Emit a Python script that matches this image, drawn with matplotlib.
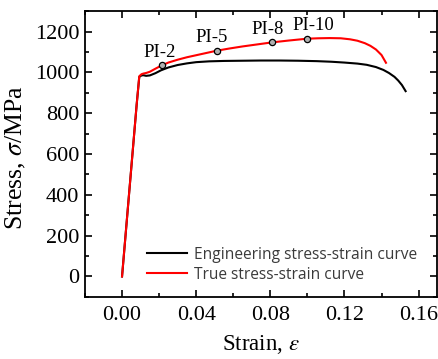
import matplotlib
matplotlib.use('Agg')
import matplotlib.pyplot as plt
from matplotlib.ticker import MultipleLocator

plt.rcParams['mathtext.fontset'] = 'stix'

# engineering stress-strain curve (strain, MPa)
eng_strain = [0.0, 0.0079, 0.0093, 0.0105, 0.0115, 0.013, 0.015, 0.018, 0.021, 0.025,
              0.03, 0.035, 0.04, 0.047, 0.055, 0.065, 0.075, 0.085, 0.095, 0.105,
              0.113, 0.12, 0.127, 0.132, 0.137, 0.141, 0.144, 0.147, 0.149, 0.151, 0.153]
eng_stress = [0, 843, 978, 985, 986, 983, 985, 996, 1010, 1024,
              1036, 1044, 1050, 1054, 1056, 1057, 1058, 1058, 1057, 1055,
              1052, 1048, 1043, 1037, 1026, 1012, 997, 978, 960, 938, 908]

# true stress-strain curve
true_strain = [0.0, 0.0079, 0.0093, 0.0105, 0.0115, 0.013, 0.015, 0.018, 0.0214, 0.025,
               0.03, 0.035, 0.04, 0.045, 0.051, 0.058, 0.065, 0.073, 0.081, 0.09,
               0.0999, 0.106, 0.112, 0.118, 0.123, 0.127, 0.131, 0.134, 0.137, 0.14, 0.1424]
true_stress = [0, 843, 981, 991, 994, 997, 1003, 1018, 1034, 1048,
               1062, 1074, 1084, 1094, 1106, 1117, 1127, 1137, 1147, 1156,
               1165, 1167, 1168, 1167, 1162, 1155, 1143, 1130, 1112, 1085, 1047]

# sampled points
pi_labels = ['PI-2', 'PI-5', 'PI-8', 'PI-10']
pi_strain = [0.0214, 0.051, 0.081, 0.0999]
pi_stress = [1034, 1106, 1147, 1165]
pi_dx = [-2, -5, -5, 6]  # label offset in px

serif = ['Liberation Serif', 'DejaVu Serif']

fig = plt.figure(figsize=(4.38, 3.59), dpi=100)
ax = fig.add_axes([0.194, 0.173, 0.804, 0.796])

ax.plot(eng_strain, eng_stress, color='black', lw=1.5,
        label='Engineering stress-strain curve')
ax.plot(true_strain, true_stress, color='#ff0000', lw=1.5,
        label='True stress-strain curve')
ax.plot(pi_strain, pi_stress, 'o', ms=4.5, mfc='#b0b0b0', mec='black', mew=0.9)

for lab, x, y, dx in zip(pi_labels, pi_strain, pi_stress, pi_dx):
    ax.annotate(lab, (x, y), xytext=(dx * 0.72, 9.5), textcoords='offset points',
                ha='center', va='center', fontsize=13.5, family=serif)

ax.set_xlim(-0.02, 0.17)
ax.set_ylim(-100, 1300)
ax.xaxis.set_major_locator(MultipleLocator(0.04))
ax.xaxis.set_minor_locator(MultipleLocator(0.02))
ax.yaxis.set_major_locator(MultipleLocator(200))
ax.yaxis.set_minor_locator(MultipleLocator(100))
ax.xaxis.set_major_formatter(plt.FuncFormatter(lambda v, p: '%.2f' % v))

ax.tick_params(which='both', direction='in', top=True, right=True, width=1.2)
ax.tick_params(which='major', length=5, labelsize=16)
ax.tick_params(axis='x', which='major', pad=6.5)
ax.tick_params(axis='y', which='major', pad=4)
ax.tick_params(which='minor', length=3)
for t in ax.get_xticklabels() + ax.get_yticklabels():
    t.set_family(serif)
for s in ax.spines.values():
    s.set_linewidth(1.3)

ax.set_xlabel('Strain, $\\varepsilon$', fontsize=16.5, family=serif, labelpad=6)
ax.set_ylabel('Stress, $\\sigma$/MPa', fontsize=18.5, family=serif)
ax.yaxis.set_label_coords(-0.161, 0.486)

leg = ax.legend(loc='center left', bbox_to_anchor=(0.135, 0.113), frameon=False,
                handlelength=2.6, handletextpad=0.45, labelspacing=0.25,
                prop={'family': 'Open Sans', 'size': 11.2})
for t in leg.get_texts():
    t.set_color('#3a3a3a')

fig.savefig('out.png', dpi=100)
